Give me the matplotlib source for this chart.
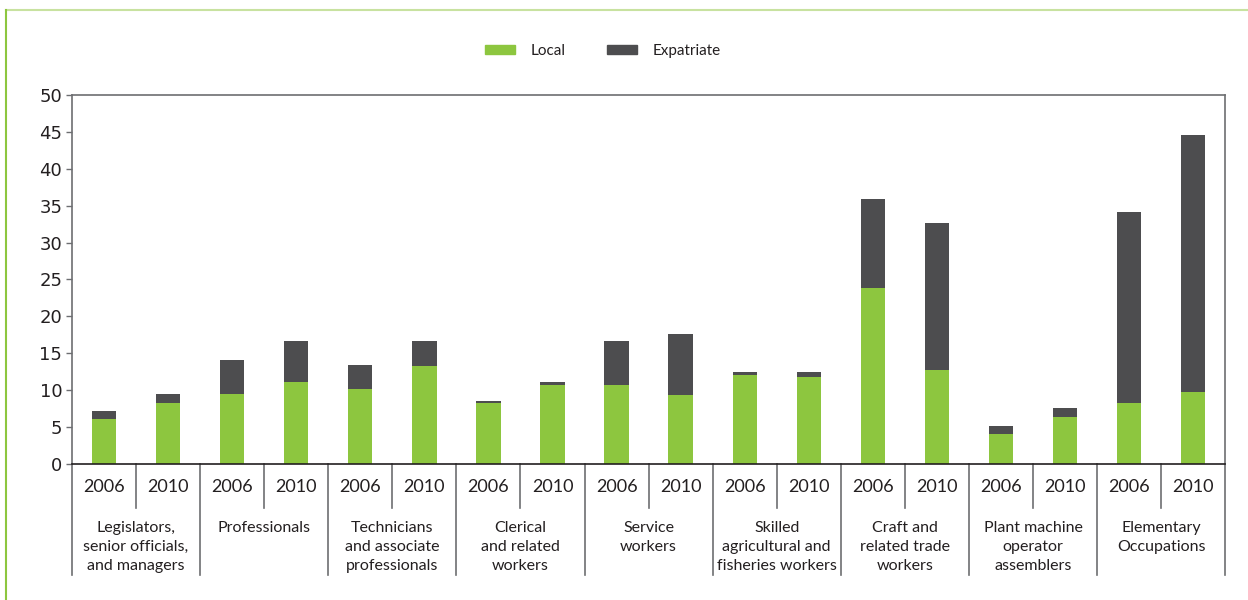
import matplotlib
matplotlib.use('Agg')
import matplotlib.pyplot as plt
from matplotlib.lines import Line2D
from matplotlib.patches import Patch
import numpy as np

groups = [
    'Legislators,\nsenior officials,\nand managers',
    'Professionals',
    'Technicians\nand associate\nprofessionals',
    'Clerical\nand related\nworkers',
    'Service\nworkers',
    'Skilled\nagricultural and\nfisheries workers',
    'Craft and\nrelated trade\nworkers',
    'Plant machine\noperator\nassemblers',
    'Elementary\nOccupations',
]
years = ['2006', '2010']

# one value per bar, ordered group by group (2006, 2010)
local = [6.1, 8.2, 9.5, 11.1, 10.1, 13.3, 8.2, 10.7, 10.7,
         9.4, 12.1, 11.8, 23.9, 12.8, 4.0, 6.3, 8.2, 9.8]
expatriate = [1.1, 1.3, 4.6, 5.6, 3.3, 3.4, 0.4, 0.4, 6.0,
              8.2, 0.4, 0.7, 12.0, 19.8, 1.1, 1.3, 26.0, 34.8]

GREEN = '#8dc63f'
DARK = '#4d4d4f'
GREY = '#6d6e71'
TEXT = '#231f20'

fig = plt.figure(figsize=(12.48, 6), dpi=100)
ax = fig.add_axes([0.0577, 0.2267, 0.924, 0.615])

x = np.arange(len(local))
ax.bar(x, local, width=0.38, color=GREEN, zorder=2)
ax.bar(x, expatriate, width=0.38, bottom=local, color=DARK, zorder=2)

ax.set_xlim(-0.5, len(local) - 0.5)
ax.set_ylim(0, 50)
ax.set_yticks(np.arange(0, 51, 5))
ax.set_xticks([])
ax.tick_params(axis='y', length=4, width=1, color=GREY, labelsize=13,
               labelcolor=TEXT, pad=3)
for s in ax.spines.values():
    s.set_color(GREY)
    s.set_linewidth(1.2)
ax.spines['bottom'].set_color(TEXT)

# category table under the axis
trans = ax.get_xaxis_transform()
h = 0.615 * 600
year_bot = -(508 - 464) / h
group_bot = -(575 - 464) / h
for i in range(len(groups)):
    left = 2 * i - 0.5
    ax.plot([left, left], [0, group_bot], transform=trans, color=GREY,
            lw=1.2, clip_on=False)
    ax.plot([left + 1, left + 1], [0, year_bot], transform=trans, color=GREY,
            lw=1.2, clip_on=False)
    for j, yr in enumerate(years):
        ax.text(2 * i + j, -(487 - 464) / h, yr, transform=trans,
                ha='center', va='center', fontsize=13, color=TEXT,
                family='Lato')
    ax.text(2 * i + 0.5, -(521 - 464) / h, groups[i], transform=trans,
            ha='center', va='top', fontsize=11.5, color=TEXT, family='Lato',
            linespacing=1.45)
right = len(local) - 0.5
ax.plot([right, right], [0, group_bot], transform=trans, color=GREY,
        lw=1.2, clip_on=False)

handles = [Patch(color=GREEN, label='Local'), Patch(color=DARK, label='Expatriate')]
fig.legend(handles=handles, loc='center', bbox_to_anchor=(0.483, 0.915), ncol=2,
           frameon=False, prop={'family': 'Lato', 'size': 11},
           handlelength=2.0, handleheight=0.6, columnspacing=2.7,
           handletextpad=1.0, labelcolor=TEXT)

# thin green frame on the top and left edge
fig.add_artist(Line2D([6 / 1248, 1], [590 / 600, 590 / 600], color='#c8e2a0', lw=1.5))
fig.add_artist(Line2D([6 / 1248, 6 / 1248], [0, 590 / 600], color=GREEN, lw=1.5))

fig.savefig('out.png', dpi=100)
